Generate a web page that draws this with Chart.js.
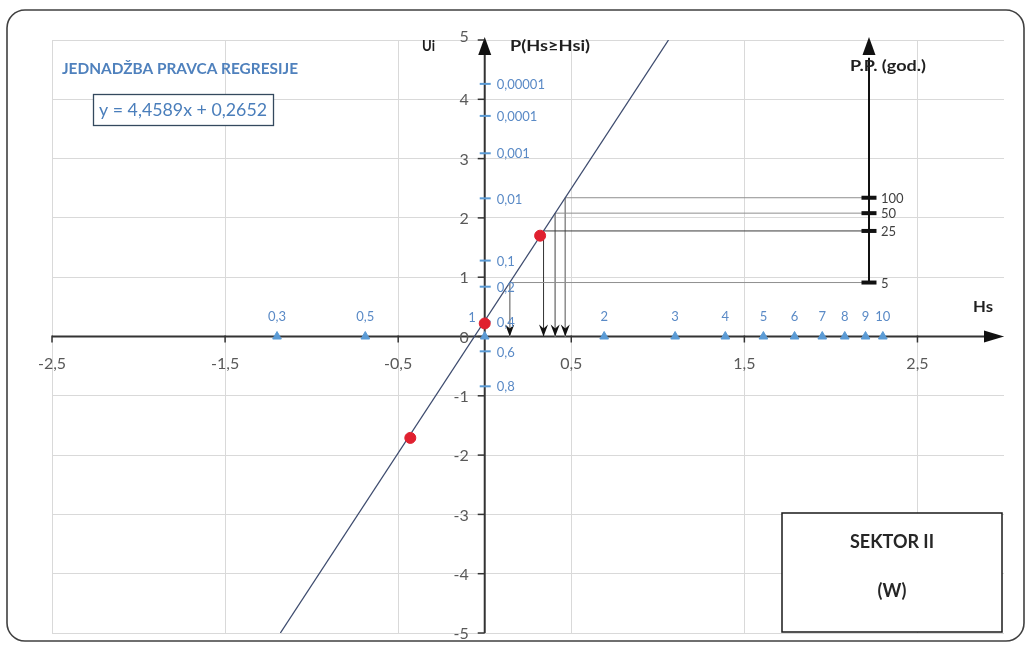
<!DOCTYPE html>
<html>
<head>
<meta charset="utf-8">
<script src="https://cdn.jsdelivr.net/npm/chart.js@4.4.1/dist/chart.umd.min.js"></script>
<style>
  html, body { margin: 0; padding: 0; background: #ffffff; }
  #wrap { width: 1029px; height: 645px; position: relative; }
</style>
</head>
<body>
<div id="wrap"><canvas id="chart"></canvas></div>
<script>
// Regression line of the reduced variate Ui against ln(Hs)
const slope = 4.4589;
const intercept = 0.2652;

// Sample points (ln Hs, Ui)
const sampleX = [-0.43, 0.0, 0.32];
const sampleU = [-1.71, 0.22, 1.70];

// Hs marks along the horizontal axis (label, position on ln scale)
const hsLabels = ['0,3', '0,5', '1', '2', '3', '4', '5', '6', '7', '8', '9', '10'];
const hsPos = [-1.20, -0.69, 0.00, 0.69, 1.10, 1.39, 1.61, 1.79, 1.95, 2.08, 2.20, 2.30];

// Exceedance probability marks on the Ui axis
const probLabels = ['0,00001', '0,0001', '0,001', '0,01', '0,1', '0,2', '0,4', '0,6', '0,8'];
const probU = [4.26, 3.72, 3.09, 2.33, 1.28, 0.84, 0.25, -0.25, -0.84];

// Return periods (years) and their Ui levels
const periodLabels = ['5', '25', '50', '100'];
const periodU = [0.91, 1.78, 2.08, 2.34];
const periodAxisX = 2.22;

// Main axis ticks
const xTicks = [-2.5, -1.5, -0.5, 0.5, 1.5, 2.5];
const yTicks = [-5, -4, -3, -2, -1, 0, 1, 2, 3, 4, 5];

const FONT = 'Lato, "Open Sans", sans-serif';
const BLUE_TEXT = '#5a8ac6';

const hsAt = u => (u - intercept) / slope;
const fmt = v => String(v).replace('.', ',');

// Draw text squeezed or stretched horizontally to a given width
function fitText(ctx, text, left, midY, width, font) {
  ctx.save();
  ctx.font = font;
  ctx.textAlign = 'left';
  ctx.textBaseline = 'middle';
  const w = ctx.measureText(text).width;
  ctx.translate(left, midY);
  ctx.scale(width / w, 1);
  ctx.fillText(text, 0, 0);
  ctx.restore();
}

// Guide lines: from the return-period axis to the regression line, then down to Hs
const guideSets = periodU.map((u, i) => ({
  type: 'line',
  label: 'PP ' + periodLabels[i],
  data: [{ x: periodAxisX, y: u }, { x: hsAt(u), y: u }, { x: hsAt(u), y: 0 }],
  borderColor: periodLabels[i] === '25' ? '#3a3a3a' : '#8f8f8f',
  borderWidth: 1,
  pointRadius: 0,
  fill: false,
  tension: 0,
  order: 5
}));

const datasets = [
  ...guideSets,
  {
    type: 'line',
    label: 'P.P. axis',
    data: [{ x: periodAxisX, y: periodU[0] }, { x: periodAxisX, y: 4.7 }],
    borderColor: '#111111',
    borderWidth: 2,
    pointRadius: 0,
    order: 4
  },
  {
    type: 'line',
    label: 'Regresija',
    data: [{ x: hsAt(-5), y: -5 }, { x: hsAt(5), y: 5 }],
    borderColor: '#3d4b6e',
    borderWidth: 1.3,
    pointRadius: 0,
    order: 3
  },
  {
    type: 'scatter',
    label: 'Hs',
    data: hsPos.map(x => ({ x, y: 0 })),
    pointStyle: 'triangle',
    pointRadius: 5,
    backgroundColor: '#5b9bd5',
    borderColor: '#5b9bd5',
    order: 2
  },
  {
    type: 'scatter',
    label: 'Uzorak',
    data: sampleX.map((x, i) => ({ x, y: sampleU[i] })),
    pointRadius: 5.5,
    backgroundColor: '#e0202f',
    borderColor: '#e0202f',
    order: 1
  }
];

function arrowUp(ctx, x, tipY, half, len) {
  ctx.beginPath();
  ctx.moveTo(x, tipY);
  ctx.lineTo(x - half, tipY + len);
  ctx.lineTo(x + half, tipY + len);
  ctx.closePath();
  ctx.fill();
}

const decor = {
  id: 'decor',
  beforeDraw(chart) {
    const ctx = chart.ctx;
    ctx.save();
    ctx.fillStyle = '#ffffff';
    ctx.fillRect(0, 0, chart.width, chart.height);
    ctx.restore();
  },
  beforeDatasetsDraw(chart) {
    const { ctx, scales: { x, y }, chartArea: a } = chart;
    const x0 = x.getPixelForValue(0);
    const y0 = y.getPixelForValue(0);
    ctx.save();
    ctx.strokeStyle = '#333333';
    ctx.fillStyle = '#111111';
    ctx.lineWidth = 2;
    // horizontal axis with arrow
    ctx.beginPath();
    ctx.moveTo(a.left, y0);
    ctx.lineTo(a.right - 10, y0);
    ctx.stroke();
    ctx.beginPath();
    ctx.moveTo(a.right, y0);
    ctx.lineTo(a.right - 20, y0 - 6);
    ctx.lineTo(a.right - 20, y0 + 6);
    ctx.closePath();
    ctx.fill();
    // vertical axis with arrow
    ctx.beginPath();
    ctx.moveTo(x0, a.bottom);
    ctx.lineTo(x0, a.top + 10);
    ctx.stroke();
    arrowUp(ctx, x0, a.top - 3, 6.5, 18);
    // tick marks
    ctx.lineWidth = 1.5;
    xTicks.forEach(v => {
      const px = x.getPixelForValue(v);
      ctx.beginPath();
      ctx.moveTo(px, y0 - 1);
      ctx.lineTo(px, y0 + 6);
      ctx.stroke();
    });
    yTicks.forEach(v => {
      const py = y.getPixelForValue(v);
      ctx.beginPath();
      ctx.moveTo(x0 - 7, py);
      ctx.lineTo(x0, py);
      ctx.stroke();
    });
    // Ui tick labels, left of the vertical axis
    ctx.font = '16px ' + FONT;
    ctx.fillStyle = '#595959';
    ctx.textAlign = 'right';
    ctx.textBaseline = 'middle';
    y.ticks.forEach(t => {
      const py = y.getPixelForValue(t.value);
      ctx.fillText(fmt(t.value), x0 - 16, (t.value === 5 ? py - 3 : py + 1));
    });
    // exceedance probability marks
    ctx.strokeStyle = '#5b9bd5';
    ctx.lineWidth = 2;
    probU.forEach(u => {
      const py = y.getPixelForValue(u);
      ctx.beginPath();
      ctx.moveTo(x0 - 5, py);
      ctx.lineTo(x0 + 6, py);
      ctx.stroke();
    });
    ctx.restore();
  },
  afterDatasetsDraw(chart) {
    const { ctx, scales: { x, y }, chartArea: a } = chart;
    const x0 = x.getPixelForValue(0);
    const y0 = y.getPixelForValue(0);
    ctx.save();
    ctx.fillStyle = '#111111';

    // arrowheads at the foot of each guide line
    periodU.forEach(u => {
      const px = x.getPixelForValue(hsAt(u));
      const tip = y0;
      ctx.beginPath();
      ctx.moveTo(px, tip);
      ctx.lineTo(px - 4.5, tip - 12);
      ctx.lineTo(px, tip - 8);
      ctx.lineTo(px + 4.5, tip - 12);
      ctx.closePath();
      ctx.fill();
    });

    // return-period axis: arrow and ticks
    const pax = x.getPixelForValue(periodAxisX);
    arrowUp(ctx, pax, a.top - 3, 6.5, 18);
    periodU.forEach((u, i) => {
      const py = y.getPixelForValue(u);
      ctx.fillStyle = '#111111';
      ctx.fillRect(pax - 7.5, py - 2, 15, 4);
      ctx.font = '13px ' + FONT;
      ctx.fillStyle = '#404040';
      ctx.textAlign = 'left';
      ctx.textBaseline = 'middle';
      ctx.fillText(periodLabels[i], pax + 12, py + 1);
    });

    // probability labels
    ctx.font = '13px ' + FONT;
    ctx.fillStyle = BLUE_TEXT;
    ctx.textAlign = 'left';
    ctx.textBaseline = 'middle';
    probU.forEach((u, i) => {
      ctx.fillText(probLabels[i], x0 + 12, y.getPixelForValue(u) + 1);
    });

    // Hs labels above the triangles
    hsPos.forEach((h, i) => {
      const px = x.getPixelForValue(h);
      if (h === 0) {
        ctx.textAlign = 'right';
        ctx.fillText(hsLabels[i], px - 9, y0 - 19);
      } else {
        ctx.textAlign = 'center';
        ctx.fillText(hsLabels[i], px, y0 - 20);
      }
    });

    // axis titles
    ctx.fillStyle = '#1f1f1f';
    fitText(ctx, 'Ui', 422, 46, 13, 'bold 15px ' + FONT);
    fitText(ctx, 'P(Hs\u2265Hsi)', 510, 46, 80, 'bold 15px ' + FONT);
    fitText(ctx, 'P.P. (god.)', 850, 66, 76, 'bold 15px ' + FONT);
    fitText(ctx, 'Hs', 973, 307, 20, 'bold 15px ' + FONT);

    // regression equation
    ctx.fillStyle = '#4f81bd';
    fitText(ctx, 'JEDNADŽBA PRAVCA REGRESIJE', 62, 69, 236, 'bold 15px ' + FONT);
    ctx.fillStyle = '#ffffff';
    ctx.fillRect(93, 94, 180, 31);
    ctx.strokeStyle = '#34495e';
    ctx.lineWidth = 1.3;
    ctx.strokeRect(93.5, 94.5, 180, 31);
    ctx.fillStyle = '#4a7ebb';
    fitText(ctx, 'y = ' + fmt(slope) + 'x + ' + fmt(intercept), 99, 111, 168, '17px ' + FONT);

    // sector box
    ctx.fillStyle = '#ffffff';
    ctx.fillRect(782, 513, 220, 119);
    ctx.strokeStyle = '#1a1a1a';
    ctx.lineWidth = 1.5;
    ctx.strokeRect(782, 513, 220, 119);
    ctx.fillStyle = '#262626';
    ctx.font = 'bold 18px ' + FONT;
    ctx.textAlign = 'center';
    ctx.textBaseline = 'middle';
    ctx.fillText('SEKTOR II', 892, 542);
    ctx.fillText('(W)', 892, 591);

    // outer frame
    ctx.strokeStyle = '#404040';
    ctx.lineWidth = 1.6;
    ctx.beginPath();
    ctx.roundRect(7, 10, 1017, 631, 18);
    ctx.stroke();
    ctx.restore();
  }
};

new Chart(document.getElementById('chart'), {
  type: 'scatter',
  data: { datasets },
  options: {
    responsive: true,
    maintainAspectRatio: false,
    animation: false,
    layout: { padding: { left: 52, top: 40, right: 25, bottom: 12 } },
    plugins: { legend: { display: false }, tooltip: { enabled: false } },
    scales: {
      x: {
        type: 'linear',
        min: -2.5,
        max: 3,
        position: { y: 0 },
        afterBuildTicks: s => { s.ticks = xTicks.map(v => ({ value: v })); },
        grid: { color: '#d9d9d9', lineWidth: 1, drawTicks: false },
        border: { display: false },
        ticks: {
          color: '#595959',
          font: { family: FONT, size: 16 },
          padding: 18,
          maxRotation: 0,
          callback: v => fmt(v)
        }
      },
      y: {
        type: 'linear',
        min: -5,
        max: 5,
        position: { x: 0 },
        afterBuildTicks: s => { s.ticks = yTicks.map(v => ({ value: v })); },
        grid: { color: '#d9d9d9', lineWidth: 1, drawTicks: false },
        border: { display: false },
        ticks: { display: false }
      }
    }
  },
  plugins: [decor]
});
</script>
</body>
</html>
